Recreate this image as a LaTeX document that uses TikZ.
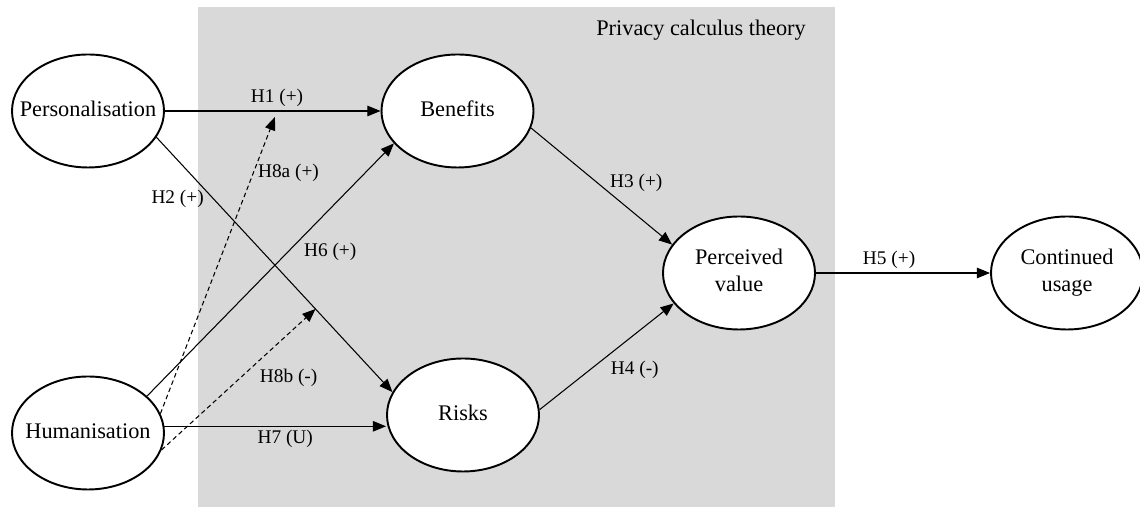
\documentclass[tikz,border=0pt]{standalone}
\usepackage{fontspec}
\setmainfont{Liberation Serif}
\usepackage{xcolor}
\usetikzlibrary{calc, positioning, arrows.meta, shapes.geometric}
\definecolor{panelgray}{RGB}{217,217,217}
% text of a construct, kept from widening its ellipse
\newcommand{\cname}[1]{\makebox[0pt]{\begin{tabular}{@{}c@{}}#1\end{tabular}}}

\begin{document}
\begin{tikzpicture}
                      [text centered,
                       latent/.style={draw, ellipse, fill=white, line width=1.1pt, inner sep=0pt,
                                      minimum width=3.04cm, minimum height=2.26cm,
                                      font=\fontsize{12.7}{15.3}\selectfont},
                       link/.style={-{Triangle[length=7.5pt,width=6pt]}, line width=.6pt},
                       moder/.style={link, dash pattern=on 2.6pt off 1.8pt},
                       lbl/.style={inner sep=1pt, font=\fontsize{11}{13}\selectfont}]
                      \useasboundingbox (0,0) rectangle (22.8,10.14);
                      % panel %
                      \fill[panelgray] (3.96,0) rectangle (16.70,10.0);
                      \node[font=\fontsize{12.7}{15}\selectfont, anchor=east] (pct) at (16.24,9.54) {Privacy calculus theory};

                      % nodes %
                      \node[latent] (pers) at (1.76,7.92) {\cname{Personalisation}};
                      \node[latent, below of = pers, node distance=6.44cm] (hum) {\cname{Humanisation}};
                      \node[latent, right of = pers, node distance=7.39cm] (ben) {\cname{Benefits}};
                      \node[latent, right of = hum, node distance=7.5cm, yshift=0.36cm] (risk) {\cname{Risks}};
                      \node[latent, right of = ben, node distance=5.63cm, yshift=-3.24cm] (pv) {\cname{Perceived\\value}};
                      \node[latent, right of = pv, node distance=6.56cm] (cu) {\cname{Continued\\usage}};

                      % moderation targets %
                      \coordinate (h8atip) at ($(pers.east)!0.51!(ben.west)+(0,-0.12)$);
                      \coordinate (h8btip) at ($(pers.-21)!0.674!(risk.162)$);

                      % edges %
                      \draw[link] (pers) -- (ben) node[lbl, pos=0.52, above=1pt] {H1 (+)};
                      \draw[link] (pers.-21) -- (risk.162) node[lbl, pos=0.24, left=4pt] {H2 (+)};
                      \draw[link] (ben.-13) -- (pv.157) node[lbl, pos=0.47, right=6pt] {H3 (+)};
                      \draw[link] (risk.4.5) -- (pv.205.5) node[lbl, pos=0.37, right=11pt] {H4 (-)};
                      \draw[link] (pv) -- (cu) node[lbl, pos=0.42, above=1pt] {H5 (+)};
                      \draw[link] (hum.32) -- (ben.207) node[lbl, pos=0.57, right=8pt] {H6 (+)};
                      \draw[link] (hum.5) -- (hum.5 -| risk.west) node[lbl, pos=0.545, below=1pt] {H7 (U)};
                      \draw[moder] (hum.15.5) -- (h8atip) node[lbl, pos=0.81, right=1.5pt] {H8a (+)};
                      \draw[moder] (hum.-13) -- (h8btip) node[lbl, pos=0.51, right=10pt] {H8b (-)};
                    \end{tikzpicture}
\end{document}
